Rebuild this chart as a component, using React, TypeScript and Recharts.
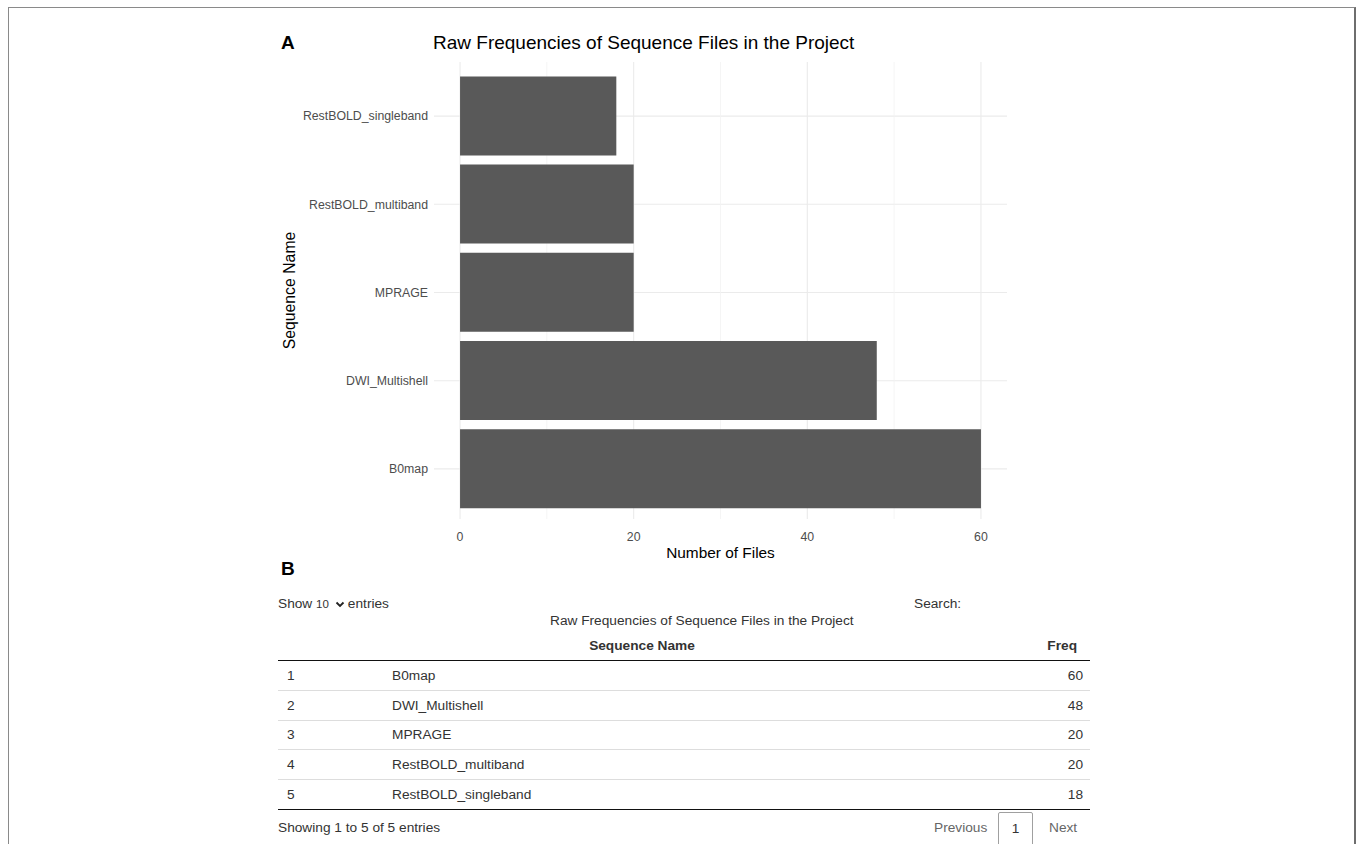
import React from 'react';
import { BarChart, Bar, XAxis, YAxis, CartesianGrid, Label } from 'recharts';

const categories = ['B0map', 'DWI_Multishell', 'MPRAGE', 'RestBOLD_multiband', 'RestBOLD_singleband'];
const freqs = [60, 48, 20, 20, 18];
const xTicks = [0, 20, 40, 60];
const xMinorTicks = [10, 30, 50];
const xDomain = [-3, 63];
const chartTitle = 'Raw Frequencies of Sequence Files in the Project';
const xTitle = 'Number of Files';
const yTitle = 'Sequence Name';

const data = categories.map((name, i) => ({ name, freq: freqs[i] }));

const FONT = "'Liberation Sans', Arial, Helvetica, sans-serif";

const abs = (left: number, top: number, extra: React.CSSProperties = {}): React.CSSProperties => ({
  position: 'absolute',
  left,
  top,
  whiteSpace: 'nowrap',
  ...extra,
});

function XTitle(props: any) {
  const vb = props.viewBox || {};
  return (
    <text
      x={vb.x + vb.width / 2}
      y={vb.y + vb.height - 7}
      textAnchor="middle"
      dominantBaseline="central"
      fill="#000"
      fontSize={15.4}
      fontFamily={FONT}
    >
      {xTitle}
    </text>
  );
}

function YTitle(props: any) {
  const vb = props.viewBox || {};
  const cx = vb.x + 15;
  const cy = vb.y + vb.height / 2;
  return (
    <text
      x={cx}
      y={cy}
      transform={`rotate(-90, ${cx}, ${cy})`}
      textAnchor="middle"
      dominantBaseline="central"
      fill="#000"
      fontSize={15.8}
      fontFamily={FONT}
    >
      {yTitle}
    </text>
  );
}

const cell: React.CSSProperties = { padding: 0, height: 28.8, borderBottom: '1px solid #ddd', verticalAlign: 'middle' };

export default function App() {
  const last = categories.length - 1;
  return (
    <div
      style={{
        position: 'absolute',
        left: 0,
        top: 0,
        width: 1360,
        height: 844,
        overflow: 'hidden',
        background: '#fff',
        fontFamily: FONT,
        color: '#333',
      }}
    >
      {/* outer frame */}
      <div
        style={{
          position: 'absolute',
          left: 8,
          top: 7,
          width: 1345,
          height: 900,
          borderTop: '1px solid #8a8a8a',
          borderLeft: '1px solid #8a8a8a',
          borderRight: '2px solid #6e6e6e',
        }}
      />

      {/* Panel A */}
      <div style={abs(281, 31, { fontSize: 19, fontWeight: 'bold', color: '#000', lineHeight: '24px' })}>A</div>
      <div style={abs(433, 31, { fontSize: 19, color: '#000', lineHeight: '24px' })}>{chartTitle}</div>

      <div style={{ position: 'absolute', left: 0, top: 0 }}>
        <BarChart
          width={1360}
          height={580}
          data={data}
          layout="vertical"
          margin={{ top: 62, right: 353, left: 274, bottom: 21 }}
          barCategoryGap="5%"
        >
          <CartesianGrid vertical={false} syncWithTicks stroke="#ebebeb" strokeWidth={1.1} />
          <CartesianGrid horizontal={false} verticalValues={xTicks} syncWithTicks stroke="#ebebeb" strokeWidth={1.1} />
          <CartesianGrid horizontal={false} verticalValues={xMinorTicks} syncWithTicks stroke="#f2f2f2" strokeWidth={0.8} />
          <XAxis
            type="number"
            dataKey="freq"
            domain={xDomain}
            ticks={xTicks}
            allowDataOverflow
            height={40}
            axisLine={false}
            tickLine={false}
            tickSize={0}
            tickMargin={13}
            tick={{ fill: '#4d4d4d', fontSize: 12.3, fontFamily: FONT }}
          >
            <Label content={<XTitle />} />
          </XAxis>
          <YAxis
            type="category"
            dataKey="name"
            reversed
            width={160}
            axisLine={false}
            tickLine={false}
            tickSize={0}
            tickMargin={6}
            padding={{ top: 10, bottom: 6 }}
            tick={{ fill: '#4d4d4d', fontSize: 12.3, fontFamily: FONT }}
          >
            <Label content={<YTitle />} />
          </YAxis>
          <Bar dataKey="freq" fill="#595959" isAnimationActive={false} />
        </BarChart>
      </div>

      {/* Panel B */}
      <div style={abs(281, 557, { fontSize: 19, fontWeight: 'bold', color: '#000', lineHeight: '24px' })}>B</div>

      <div style={abs(278, 596, { fontSize: 13.7, lineHeight: '16px' })}>
        Show{' '}
        <span style={{ fontSize: 11.5 }}>10</span>
        <svg width="10" height="7" viewBox="0 0 9 7" style={{ verticalAlign: 'middle', margin: '0 3px 0 6px' }}>
          <polyline points="1,1.5 4.5,5 8,1.5" fill="none" stroke="#222" strokeWidth="1.8" />
        </svg>
        entries
      </div>
      <div style={abs(914, 596, { fontSize: 13.7, lineHeight: '16px' })}>Search:</div>
      <div style={abs(550, 613, { fontSize: 13.7, lineHeight: '16px' })}>{chartTitle}</div>

      <div style={abs(278, 631, {})}>
        <table
          style={{
            borderCollapse: 'collapse',
            width: 812,
            fontSize: 13.7,
            color: '#333',
            tableLayout: 'fixed',
            borderBottom: '1px solid #111',
          }}
        >
          <colgroup>
            <col style={{ width: 104 }} />
            <col style={{ width: 520 }} />
            <col style={{ width: 188 }} />
          </colgroup>
          <thead>
            <tr>
              <th style={{ height: 29, padding: 0, borderBottom: '1px solid #111' }}></th>
              <th style={{ height: 29, padding: 0, borderBottom: '1px solid #111', textAlign: 'center', fontWeight: 'bold' }}>
                Sequence Name
              </th>
              <th
                style={{
                  height: 29,
                  padding: '0 13px 0 0',
                  borderBottom: '1px solid #111',
                  textAlign: 'right',
                  fontWeight: 'bold',
                }}
              >
                Freq
              </th>
            </tr>
          </thead>
          <tbody>
            {categories.map((name, i) => (
              <tr key={name}>
                <td style={{ ...cell, paddingLeft: 9, borderBottom: i === last ? 'none' : cell.borderBottom }}>{i + 1}</td>
                <td style={{ ...cell, paddingLeft: 10, borderBottom: i === last ? 'none' : cell.borderBottom }}>{name}</td>
                <td style={{ ...cell, textAlign: 'right', paddingRight: 7, borderBottom: i === last ? 'none' : cell.borderBottom }}>
                  {freqs[i]}
                </td>
              </tr>
            ))}
          </tbody>
        </table>
      </div>

      <div style={abs(278, 820, { fontSize: 13.7, lineHeight: '16px' })}>
        Showing 1 to {categories.length} of {categories.length} entries
      </div>
      <div style={abs(934, 820, { fontSize: 13.7, lineHeight: '16px', color: '#666' })}>Previous</div>
      <div
        style={abs(998, 812, {
          width: 35,
          height: 40,
          border: '1px solid #a0a0a0',
          borderRadius: 2,
          boxSizing: 'border-box',
          fontSize: 13.7,
          lineHeight: '16px',
          textAlign: 'center',
          paddingTop: 8,
          color: '#333',
        })}
      >
        1
      </div>
      <div style={abs(1049, 820, { fontSize: 13.7, lineHeight: '16px', color: '#666' })}>Next</div>
    </div>
  );
}
